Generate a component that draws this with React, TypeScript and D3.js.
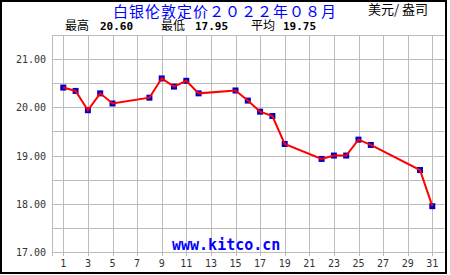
import React from "react";
import * as d3 from "d3";

const days = [1, 2, 3, 4, 5, 8, 9, 10, 11, 12, 15, 16, 17, 18, 19, 22, 23, 24, 25, 26, 30, 31];
const prices = [20.41, 20.34, 19.94, 20.29, 20.08, 20.2, 20.6, 20.43, 20.55, 20.29, 20.35, 20.14, 19.91, 19.82, 19.24, 18.93, 19.0, 19.0, 19.33, 19.22, 18.7, 17.95];
const xTicks = [1, 3, 5, 7, 9, 11, 13, 15, 17, 19, 21, 23, 25, 27, 29, 31];
const yTicks = [17, 18, 19, 20, 21];
const yGrid = [17, 17.5, 18, 18.5, 19, 19.5, 20, 20.5, 21, 21.5];
const title = "白银伦敦定价２０２２年０８月";
const unit = "美元/ 盎司";
const statLabels = ["最高", "最低", "平均"];
const statValues = ["20.60", "17.95", "19.75"];
const site = "www.kitco.cn";

const W = 450;
const H = 275;
const left = 52;
const right = 444.5;
const top = 35;
const bottom = 252;

export default function App() {
  const x = d3.scaleLinear().domain([1, 31]).range([63.3, 432.3]);
  const y = d3.scaleLinear().domain([17, 21.5]).range([bottom, top]);
  const pts = days.map((d, i) => [x(d), y(prices[i])] as [number, number]);
  const line = d3.line()(pts) || "";
  const mono = "'DejaVu Sans Mono', monospace";
  const cjk = "'Noto Sans CJK SC', sans-serif";
  const statX = [65, 161, 251];
  const valX = [100, 195, 283];
  const px = (v: number) => Math.round(v) + 0.5;
  return (
    <svg width={W} height={H} style={{ position: "fixed", left: 0, top: 0, background: "#fff" }}>
      <rect x={0} y={0} width={W} height={H} fill="#fff" />
      {yGrid.map((v) => (
        <line key={"h" + v} x1={left} x2={right} y1={px(y(v))} y2={px(y(v))} stroke="#bcbcbc" strokeWidth={1} />
      ))}
      {xTicks.map((d) => (
        <line key={"v" + d} x1={px(x(d))} x2={px(x(d))} y1={top} y2={bottom + 4} stroke="#bcbcbc" strokeWidth={1} />
      ))}
      <line x1={px(left)} x2={px(left)} y1={top} y2={bottom + 4} stroke="#bcbcbc" />
      <line x1={px(right)} x2={px(right)} y1={top} y2={bottom + 4} stroke="#bcbcbc" />
      {yTicks.map((v) => (
        <text key={"yl" + v} x={46} y={y(v) + 4} textAnchor="end" fontFamily={mono} fontSize={10} fill="#333">
          {v.toFixed(2)}
        </text>
      ))}
      {xTicks.map((d) => (
        <text key={"xl" + d} x={x(d)} y={267} textAnchor="middle" fontFamily={mono} fontSize={10} fill="#333">
          {d}
        </text>
      ))}
      <text x={172} y={250} fontFamily={mono} fontWeight="bold" fontSize={15} fill="#0000ff">
        {site}
      </text>
      {pts.map(([cx, cy], i) => (
        <rect key={"m" + i} x={cx - 3} y={cy - 3} width={6} height={6} fill="#0000c8" />
      ))}
      <path d={line} fill="none" stroke="#ff0000" strokeWidth={2} />
      <text x={113} y={17} fontFamily={cjk} fontSize={15} letterSpacing={1} fill="#0000ff">
        {title}
      </text>
      <text x={368} y={14} fontFamily={cjk} fontSize={13} fill="#000" style={{ whiteSpace: "pre" }}>
        {unit}
      </text>
      {statLabels.map((s, i) => (
        <g key={s}>
          <text x={statX[i]} y={30} fontFamily={cjk} fontSize={12} fill="#000">
            {s}
          </text>
          <text x={valX[i]} y={30} fontFamily={mono} fontWeight="bold" fontSize={11} fill="#000">
            {statValues[i]}
          </text>
        </g>
      ))}
      <rect x={1} y={1} width={445} height={272} fill="none" stroke="#000" strokeWidth={2} />
    </svg>
  );
}
